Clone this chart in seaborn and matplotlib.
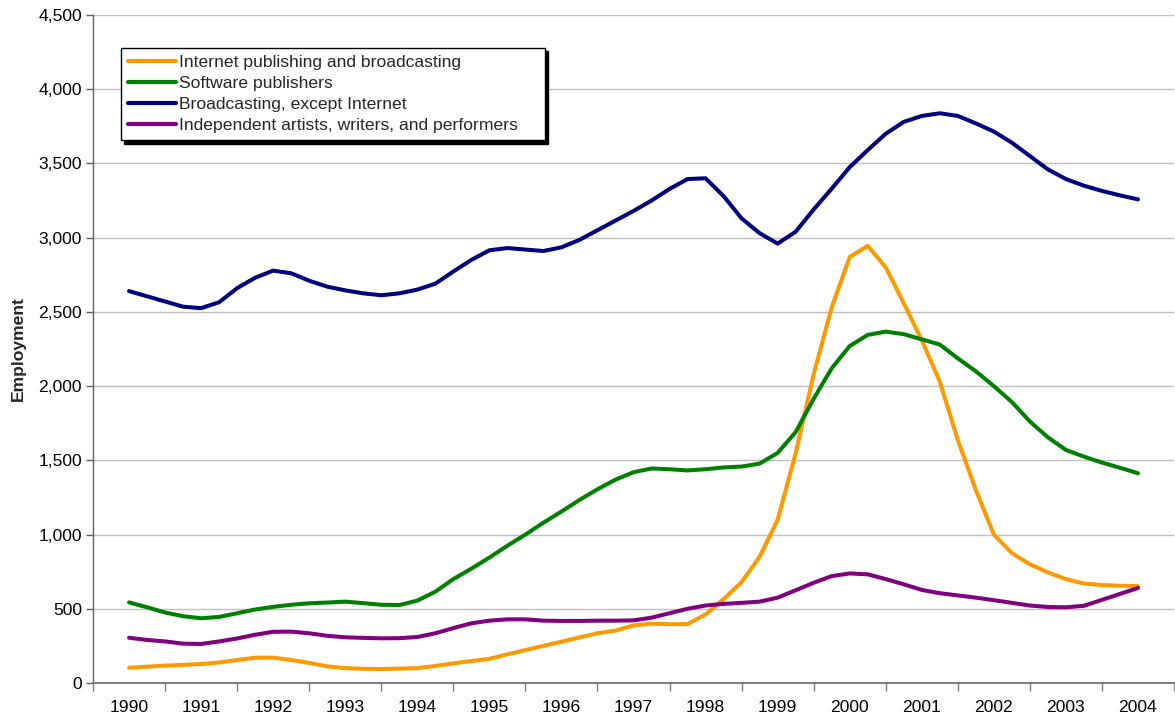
import numpy as np
import pandas as pd
import matplotlib
matplotlib.use("Agg")
import matplotlib.pyplot as plt
import seaborn as sns
from matplotlib.ticker import FuncFormatter, FixedLocator

# ---- data (quarterly, 1990Q1 .. 2004Q1), employment in thousands ----
years = list(range(1990, 2005))
quarters = np.arange(1990, 2004.01, 0.25)

internet = [103, 110, 117, 122, 128, 138, 155, 170, 171, 155, 135, 112, 100, 96, 94, 97,
            100, 115, 132, 148, 163, 193, 222, 250, 278, 307, 335, 353, 388, 400, 396, 397,
            462, 565, 680, 850, 1100, 1547, 2080, 2530, 2870, 2945, 2800, 2558, 2310, 2030, 1637, 1300,
            1000, 875, 800, 745, 700, 670, 660, 655, 653]
software = [543, 510, 475, 450, 436, 445, 470, 495, 513, 527, 537, 542, 548, 538, 527, 525,
            555, 615, 700, 770, 845, 925, 1000, 1080, 1155, 1233, 1305, 1370, 1420, 1445, 1440, 1432,
            1440, 1452, 1458, 1478, 1550, 1690, 1915, 2120, 2270, 2345, 2367, 2350, 2315, 2280, 2187, 2100,
            2000, 1893, 1762, 1655, 1570, 1525, 1485, 1450, 1413]
broadcasting = [2640, 2605, 2570, 2535, 2525, 2565, 2660, 2730, 2778, 2760, 2710, 2670, 2645, 2625, 2612, 2625,
                2650, 2690, 2772, 2850, 2915, 2930, 2920, 2910, 2935, 2985, 3050, 3115, 3180, 3250, 3328, 3395,
                3400, 3280, 3130, 3030, 2960, 3040, 3190, 3330, 3475, 3590, 3700, 3780, 3820, 3838, 3820, 3770,
                3715, 3640, 3550, 3460, 3395, 3350, 3315, 3285, 3258]
artists = [305, 290, 280, 265, 263, 280, 300, 325, 345, 346, 335, 318, 308, 304, 301, 302,
           310, 335, 370, 402, 420, 429, 429, 420, 418, 418, 420, 420, 422, 440, 470, 500,
           522, 533, 540, 548, 575, 625, 675, 720, 738, 732, 700, 665, 627, 605, 590, 575,
           558, 540, 522, 512, 510, 520, 560, 600, 640]

series_names = ["Internet publishing and broadcasting", "Software publishers",
                "Broadcasting, except Internet", "Independent artists, writers, and performers"]
colors = ["#FF9900", "#008000", "#000080", "#800080"]

df = pd.concat([
    pd.DataFrame({"t": quarters, "Employment": vals, "series": name})
    for name, vals in zip(series_names, [internet, software, broadcasting, artists])
], ignore_index=True)

sns.set_style("white")
plt.rcParams["font.family"] = ["Liberation Sans", "DejaVu Sans"]
FS = 12.6

fig = plt.figure(figsize=(11.75, 7.19), dpi=100)
ax = fig.add_axes([93 / 1175, 1 - 683 / 719, (1174 - 93) / 1175, (683 - 15) / 719])

sns.lineplot(data=df, x="t", y="Employment", hue="series", hue_order=series_names,
             palette=colors, linewidth=2.9, ax=ax, estimator=None, sort=False)
for ln in ax.get_lines():
    ln.set_solid_joinstyle("round")
    ln.set_solid_capstyle("round")

ax.set_xlim(1989.5, 2004.5)
ax.set_ylim(0, 4500)
ax.set_yticks(np.arange(0, 4501, 500))
ax.yaxis.set_major_formatter(FuncFormatter(lambda v, p: f"{int(v):,}"))
ax.grid(axis="y", color="#C0C0C0", linewidth=1)
ax.set_axisbelow(True)

# x: labels at year centres, tick marks at year boundaries
ax.set_xticks(years)
ax.set_xticklabels([str(y) for y in years])
ax.xaxis.set_minor_locator(FixedLocator(np.arange(1989.5, 2005.0, 1.0)))
ax.tick_params(axis="x", which="major", length=0, pad=12, labelsize=FS, labelcolor="black")
ax.tick_params(axis="x", which="minor", length=6, width=1, color="#808080", direction="out", bottom=True)
ax.tick_params(axis="y", which="major", length=5, width=1, color="#606060", direction="out",
               left=True, pad=3, labelsize=FS, labelcolor="black")

for s in ["top", "right"]:
    ax.spines[s].set_visible(False)
ax.spines["left"].set_color("#606060")
ax.spines["bottom"].set_color("#808080")
ax.spines["left"].set_linewidth(1)
ax.spines["bottom"].set_linewidth(1.5)

ax.set_xlabel("")
ax.set_ylabel("Employment", fontsize=FS, fontweight="bold", labelpad=9)

leg = ax.legend(loc="upper left", bbox_to_anchor=(0.0259, 0.951, 0.392, 0.0), mode="expand",
                borderaxespad=0,
                fontsize=FS, frameon=True, fancybox=False, handlelength=2.75,
                handletextpad=0.15, labelspacing=0.33, borderpad=0.4,
                shadow={"ox": 2.5, "oy": -2.5, "color": "black", "alpha": 1.0})
leg.get_frame().set_edgecolor("black")
leg.get_frame().set_linewidth(1)
leg.get_frame().set_facecolor("white")
leg.get_frame().set_alpha(1)
for line in leg.get_lines():
    line.set_linewidth(3)

fig.savefig("out.png", dpi=100)
